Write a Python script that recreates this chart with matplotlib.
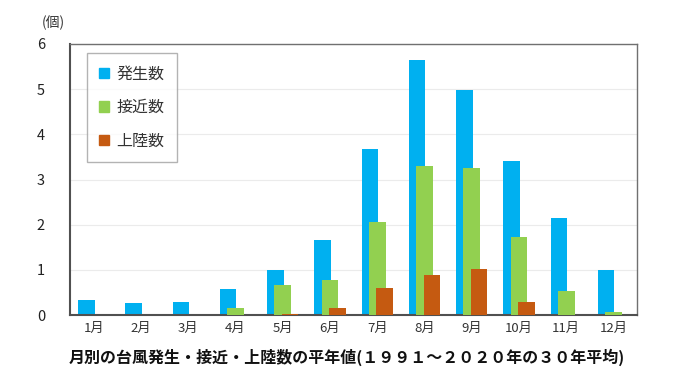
import matplotlib
matplotlib.use("Agg")
import matplotlib.pyplot as plt
import numpy as np
from matplotlib.patches import Patch

plt.rcParams['font.family'] = ['Noto Sans CJK JP', 'DejaVu Sans']

months = ["1月", "2月", "3月", "4月", "5月", "6月", "7月", "8月", "9月", "10月", "11月", "12月"]
hassei = [0.33, 0.27, 0.30, 0.57, 1.00, 1.66, 3.68, 5.65, 4.98, 3.41, 2.15, 1.00]
sekkin = [0.0, 0.0, 0.0, 0.16, 0.66, 0.77, 2.06, 3.31, 3.25, 1.72, 0.54, 0.06]
jouriku = [0.0, 0.0, 0.0, 0.0, 0.03, 0.16, 0.60, 0.89, 1.02, 0.29, 0.0, 0.0]
series_names = ["発生数", "接近数", "上陸数"]
colors = ["#00B0F0", "#92D050", "#C55A11"]
yticks = [0, 1, 2, 3, 4, 5, 6]

fig = plt.figure(figsize=(6.8, 3.82), dpi=100)
ax = fig.add_axes([0.103, 0.175, 0.834, 0.71])

x = np.arange(len(months))
w = 0.35
off = 0.155
for i, (vals, c) in enumerate(zip([hassei, sekkin, jouriku], colors)):
    ax.bar(x + (i - 1) * off, vals, width=w, color=c, zorder=2 + i)

ax.set_xlim(-0.5, len(months) - 0.5)
ax.set_ylim(0, 6)
ax.set_yticks(yticks)
ax.set_yticklabels([str(t) for t in yticks], fontsize=10.5, color="#222222")
ax.set_xticks(x)
ax.set_xticklabels(months, fontsize=9.5, color="#333333")
ax.tick_params(axis='both', length=0)
ax.tick_params(axis='y', pad=18)
ax.tick_params(axis='x', pad=5)
ax.grid(axis='y', color="#EBEBEB", linewidth=0.8, zorder=0)
ax.set_axisbelow(True)
for s in ["left", "bottom"]:
    ax.spines[s].set_color("#505050")
    ax.spines[s].set_linewidth(1.5)
for s in ["top", "right"]:
    ax.spines[s].set_color("#707070")
    ax.spines[s].set_linewidth(1.0)

handles = [Patch(facecolor=c, edgecolor=c) for c in colors]
leg = ax.legend(handles, series_names, loc="upper left", bbox_to_anchor=(0.03, 0.965),
                fontsize=11.5, handlelength=0.6, handleheight=0.6, handletextpad=0.5,
                labelspacing=1.05, borderpad=0.75, borderaxespad=0.0, frameon=True,
                fancybox=False, edgecolor="#A0A0A0")
leg.get_frame().set_linewidth(1.0)
for t in leg.get_texts():
    t.set_color("#333333")

fig.text(0.062, 0.94, "(個)", fontsize=10, color="#333333", ha="left", va="center")
fig.text(0.51, 0.065, "月別の台風発生・接近・上陸数の平年値(１９９１～２０２０年の３０年平均)",
         fontsize=11.5, fontweight="bold", ha="center", va="center", color="#111111")

fig.savefig("out.png", dpi=100)
